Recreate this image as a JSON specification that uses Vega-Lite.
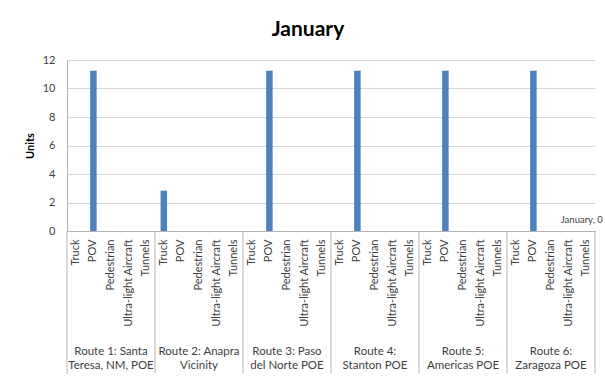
{
  "$schema": "https://vega.github.io/schema/vega-lite/v6.json",
  "width": 528,
  "height": 171,
  "autosize": {"type": "none"},
  "padding": {"left": 67, "top": 60, "right": 10, "bottom": 150},
  "background": "white",
  "config": {
    "view": {"stroke": null},
    "font": "Lato",
    "axis": {"labelFont": "Lato", "titleFont": "Lato"},
    "axisY": {
      "titleFontSize": 11,
      "titleFontWeight": "bold",
      "titleColor": "#000000",
      "titlePadding": 7,
      "tickCount": 7,
      "labelOverlap": false,
      "labelFontSize": 11,
      "labelColor": "#404040",
      "labelPadding": 12,
      "ticks": false,
      "domain": true,
      "domainColor": "#b3b3b3",
      "gridColor": "#d9d9d9"
    }
  },
  "title": {
    "text": "January",
    "fontSize": 21,
    "fontWeight": "bold",
    "font": "Lato",
    "color": "#000000",
    "anchor": "middle",
    "dx": -23,
    "offset": 14
  },
  "data": {
    "values": [
      {"route": "Route 1: Santa\nTeresa, NM, POE", "cat": "Truck", "units": 0},
      {"route": "Route 1: Santa\nTeresa, NM, POE", "cat": "POV", "units": 11.25},
      {"route": "Route 1: Santa\nTeresa, NM, POE", "cat": "Pedestrian", "units": 0},
      {"route": "Route 1: Santa\nTeresa, NM, POE", "cat": "Ultra-light Aircraft", "units": 0},
      {"route": "Route 1: Santa\nTeresa, NM, POE", "cat": "Tunnels", "units": 0},
      {"route": "Route 2: Anapra\nVicinity", "cat": "Truck", "units": 2.83},
      {"route": "Route 2: Anapra\nVicinity", "cat": "POV", "units": 0},
      {"route": "Route 2: Anapra\nVicinity", "cat": "Pedestrian", "units": 0},
      {"route": "Route 2: Anapra\nVicinity", "cat": "Ultra-light Aircraft", "units": 0},
      {"route": "Route 2: Anapra\nVicinity", "cat": "Tunnels", "units": 0},
      {"route": "Route 3: Paso\ndel Norte POE", "cat": "Truck", "units": 0},
      {"route": "Route 3: Paso\ndel Norte POE", "cat": "POV", "units": 11.25},
      {"route": "Route 3: Paso\ndel Norte POE", "cat": "Pedestrian", "units": 0},
      {"route": "Route 3: Paso\ndel Norte POE", "cat": "Ultra-light Aircraft", "units": 0},
      {"route": "Route 3: Paso\ndel Norte POE", "cat": "Tunnels", "units": 0},
      {"route": "Route 4:\nStanton POE", "cat": "Truck", "units": 0},
      {"route": "Route 4:\nStanton POE", "cat": "POV", "units": 11.25},
      {"route": "Route 4:\nStanton POE", "cat": "Pedestrian", "units": 0},
      {"route": "Route 4:\nStanton POE", "cat": "Ultra-light Aircraft", "units": 0},
      {"route": "Route 4:\nStanton POE", "cat": "Tunnels", "units": 0},
      {"route": "Route 5:\nAmericas  POE", "cat": "Truck", "units": 0},
      {"route": "Route 5:\nAmericas  POE", "cat": "POV", "units": 11.25},
      {"route": "Route 5:\nAmericas  POE", "cat": "Pedestrian", "units": 0},
      {"route": "Route 5:\nAmericas  POE", "cat": "Ultra-light Aircraft", "units": 0},
      {"route": "Route 5:\nAmericas  POE", "cat": "Tunnels", "units": 0},
      {"route": "Route 6:\nZaragoza POE", "cat": "Truck", "units": 0},
      {"route": "Route 6:\nZaragoza POE", "cat": "POV", "units": 11.25},
      {"route": "Route 6:\nZaragoza POE", "cat": "Pedestrian", "units": 0},
      {"route": "Route 6:\nZaragoza POE", "cat": "Ultra-light Aircraft", "units": 0},
      {"route": "Route 6:\nZaragoza POE", "cat": "Tunnels", "units": 0}
    ]
  },
  "transform": [{"calculate": "datum.route + '|' + datum.cat", "as": "key"}],
  "encoding": {
    "x": {
      "field": "key",
      "type": "nominal",
      "sort": null,
      "scale": {"paddingInner": 0, "paddingOuter": 0},
      "axis": {
        "title": null,
        "labelExpr": "split(datum.value, '|')[1]",
        "labelAngle": -90,
        "labelFontSize": 11,
        "labelColor": "#404040",
        "labelPadding": 8,
        "ticks": false,
        "domainColor": "#b3b3b3",
        "grid": false
      }
    }
  },
  "layer": [
    {
      "mark": {"type": "bar", "color": "#4f81bd", "width": {"band": 0.37}},
      "encoding": {
        "y": {
          "field": "units",
          "type": "quantitative",
          "title": "Units",
          "scale": {"domain": [0, 12], "nice": false}
        }
      }
    },
    {
      "transform": [{"filter": "datum.cat == 'Truck'"}],
      "mark": {"type": "rule", "color": "#b3b3b3", "clip": false, "strokeWidth": 1},
      "encoding": {
        "x": {"field": "key", "type": "nominal", "sort": null, "bandPosition": 0},
        "y": {"datum": 0, "type": "quantitative", "title": "Units"},
        "y2": {"datum": -10}
      }
    },
    {
      "transform": [{"filter": "datum.cat == 'Tunnels' && indexof(datum.route, 'Route 6') == 0"}],
      "mark": {"type": "rule", "color": "#b3b3b3", "clip": false, "strokeWidth": 1},
      "encoding": {
        "x": {"field": "key", "type": "nominal", "sort": null, "bandPosition": 1},
        "y": {"datum": 0, "type": "quantitative", "title": "Units"},
        "y2": {"datum": -10}
      }
    },
    {
      "transform": [{"filter": "datum.cat == 'Pedestrian'"}],
      "mark": {"type": "text", "baseline": "top", "align": "center", "lineBreak": "\n", "lineHeight": 14, "fontSize": 11.5, "color": "#404040", "clip": false, "font": "Lato"},
      "encoding": {
        "y": {"datum": -8.1, "type": "quantitative", "title": "Units"},
        "text": {"field": "route"}
      }
    },
    {
      "transform": [{"filter": "datum.cat == 'Ultra-light Aircraft' && indexof(datum.route, 'Route 6') == 0"}],
      "mark": {"type": "text", "baseline": "middle", "align": "left", "dx": 1, "fontSize": 9.5, "color": "#404040", "clip": false, "font": "Lato", "text": "January, 0"},
      "encoding": {
        "x": {"field": "key", "type": "nominal", "sort": null, "bandPosition": 0},
        "y": {"datum": 0.8, "type": "quantitative", "title": "Units"}
      }
    }
  ]
}
